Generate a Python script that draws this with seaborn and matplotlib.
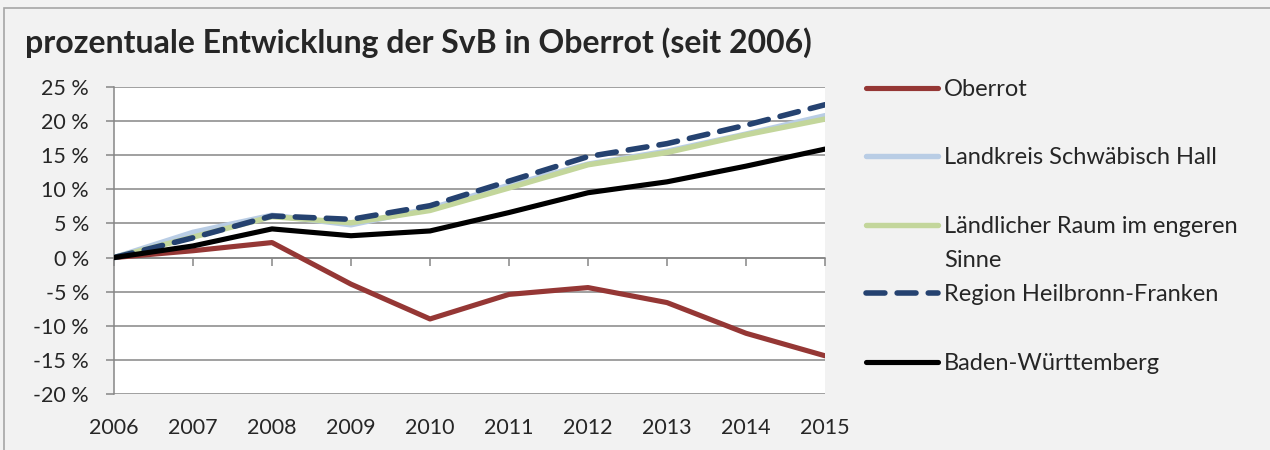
import matplotlib.pyplot as plt
import pandas as pd
import seaborn as sns
from matplotlib.lines import Line2D
from matplotlib.patches import Rectangle
from matplotlib.ticker import FuncFormatter

years = list(range(2006, 2016))

oberrot = [0.0, 1.0, 2.2, -3.9, -9.0, -5.4, -4.4, -6.6, -11.1, -14.4]
landkreis_sha = [0.0, 3.7, 6.2, 4.8, 7.2, 10.6, 13.7, 15.6, 18.1, 20.8]
laendlicher_raum = [0.0, 3.0, 6.0, 5.1, 6.9, 10.2, 13.6, 15.4, 18.0, 20.3]
region_hf = [0.0, 2.9, 6.1, 5.6, 7.6, 11.2, 14.8, 16.7, 19.4, 22.4]
baden_wuerttemberg = [0.0, 1.7, 4.2, 3.2, 3.9, 6.6, 9.5, 11.1, 13.4, 15.9]

series_names = [
    "Oberrot",
    "Landkreis Schwäbisch Hall",
    "Ländlicher Raum im engeren Sinne",
    "Region Heilbronn-Franken",
    "Baden-Württemberg",
]
y_ticks = [-20, -15, -10, -5, 0, 5, 10, 15, 20, 25]

colors = ["#953735", "#b9cde5", "#c3d69b", "#254270", "#000000"]
widths = [3.7, 3.9, 3.9, 4.0, 3.7]
dash = (3.4, 2.2)

df = pd.DataFrame({
    "Jahr": years * 5,
    "Wert": oberrot + landkreis_sha + laendlicher_raum + region_hf + baden_wuerttemberg,
    "Reihe": [n for n in series_names for _ in years],
})

sns.set_style("white")
plt.rcParams["font.family"] = ["Lato", "DejaVu Sans"]

grid_col = "#868686"
fig = plt.figure(figsize=(12.7, 4.5), dpi=100, facecolor="#f2f2f2")
fig.patches.append(Rectangle((4 / 1270, -0.05), 1.1, 0.05 + 442 / 450,
                             transform=fig.transFigure, fill=False,
                             edgecolor="#a6a6a6", linewidth=1.2))
ax = fig.add_axes([114 / 1270, 1 - 394 / 450, 711 / 1270, 307 / 450])
ax.set_facecolor("white")

# draw order: light series first, then the others on top
order = [1, 2, 4, 3, 0]
for i in order:
    sub = df[df["Reihe"] == series_names[i]]
    line_kw = dict(color=colors[i], linewidth=widths[i], solid_capstyle="round")
    if i == 3:
        line_kw.update(dashes=dash, dash_capstyle="round")
    sns.lineplot(data=sub, x="Jahr", y="Wert", ax=ax, legend=False, zorder=3 + i, **line_kw)

ax.set_xlim(years[0], years[-1])
ax.set_ylim(y_ticks[0], y_ticks[-1])
ax.set_yticks(y_ticks)
ax.yaxis.set_major_formatter(FuncFormatter(lambda v, p: f"{int(v)} %"))
ax.grid(axis="y", color=grid_col, linewidth=1.1)
ax.set_axisbelow(True)
for s in ["top", "right"]:
    ax.spines[s].set_visible(False)
ax.spines["left"].set_color(grid_col)
ax.spines["left"].set_linewidth(1.1)
ax.spines["bottom"].set_position(("data", 0))
ax.spines["bottom"].set_color(grid_col)
ax.spines["bottom"].set_linewidth(1.1)
ax.set_xticks(years)
ax.tick_params(axis="x", bottom=True, labelbottom=False, length=6, width=1.1,
               color=grid_col, direction="out")
ax.tick_params(axis="y", left=True, length=6, width=1.1, color=grid_col,
               labelsize=15.5, pad=12)
ax.set_xlabel("")
ax.set_ylabel("")

sec = ax.secondary_xaxis("bottom")
sec.set_xticks(years)
sec.set_xticklabels([str(y) for y in years])
sec.tick_params(length=0, labelsize=15.5, pad=17)
sec.spines["bottom"].set_visible(False)

fig.text(25 / 1270, 1 - 53 / 450, "prozentuale Entwicklung der SvB in Oberrot (seit 2006)",
         fontsize=23, fontweight="bold", ha="left", va="baseline")

# legend: Excel spaces the entries evenly, the wrapped label takes a free slot
def mk(i):
    kw = dict(color=colors[i], linewidth=widths[i], solid_capstyle="round")
    if i == 3:
        kw.update(dashes=dash, dash_capstyle="round")
    return Line2D([], [], **kw)

blank = Line2D([], [], linestyle="none")
handles = [mk(0), blank, mk(1), blank, mk(2), blank, mk(3), blank, mk(4)]
labels = ["Oberrot", "", "Landkreis Schwäbisch Hall", "", "Ländlicher Raum im engeren",
          "Sinne", "Region Heilbronn-Franken", "", "Baden-Württemberg"]
fig.legend(handles, labels, loc="upper left", bbox_to_anchor=(866 / 1270, 1 - 79 / 450),
           frameon=False, fontsize=17, handlelength=3.05, handletextpad=0.25,
           labelspacing=0.56, borderpad=0, borderaxespad=0)

fig.savefig("out.png", dpi=100, facecolor=fig.get_facecolor())
